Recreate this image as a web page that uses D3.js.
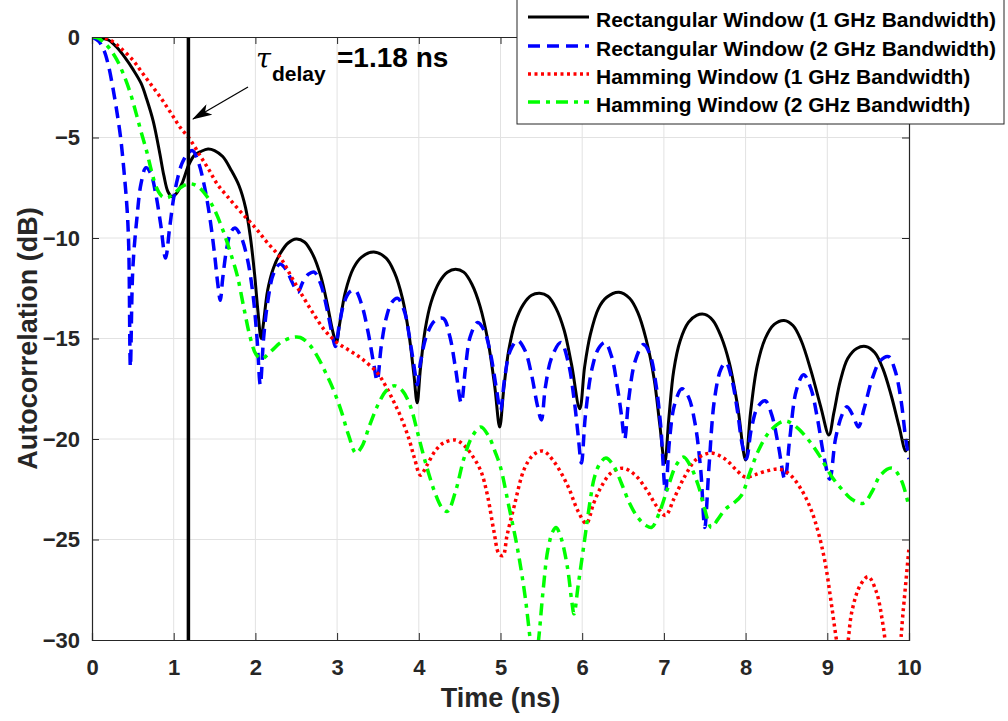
<!DOCTYPE html>
<html>
<head>
<meta charset="utf-8">
<script src="https://cdn.jsdelivr.net/npm/d3@7"></script>
<style>
  body { margin: 0; background: #fff; }
  svg { display: block; font-family: "Liberation Sans", Arial, sans-serif; font-weight: bold; }
</style>
</head>
<body>
<script>
// time (ns), autocorrelation (dB)
const rect1GHz = [[0,0],[0.1,-0.05],[0.2,-0.15],[0.3,-0.5],[0.4,-1.0],[0.5,-1.6],[0.6,-2.3],[0.67,-3.1],[0.75,-4.2],[0.83,-5.8],[0.88,-6.9],[0.93,-7.7],[0.98,-7.95],[1.03,-7.8],[1.1,-7.3],[1.18,-6.4],[1.25,-5.9],[1.33,-5.7],[1.42,-5.57],[1.5,-5.65],[1.6,-5.95],[1.7,-6.6],[1.8,-7.4],[1.88,-8.5],[1.94,-10.0],[1.99,-11.8],[2.03,-13.6],[2.07,-15.0],[2.1,-14.2],[2.15,-12.6],[2.22,-11.5],[2.3,-10.8],[2.4,-10.25],[2.5,-10.05],[2.6,-10.2],[2.7,-10.8],[2.8,-11.9],[2.88,-13.3],[2.95,-14.7],[2.99,-15.2],[3.03,-14.3],[3.1,-12.7],[3.2,-11.5],[3.3,-10.95],[3.45,-10.7],[3.6,-11.0],[3.7,-11.7],[3.8,-13.0],[3.88,-14.8],[3.94,-16.8],[3.98,-18.2],[4.02,-16.5],[4.08,-14.5],[4.15,-13.2],[4.25,-12.2],[4.35,-11.7],[4.45,-11.55],[4.55,-11.7],[4.65,-12.3],[4.75,-13.4],[4.85,-15.2],[4.93,-17.4],[4.99,-19.4],[5.04,-17.5],[5.1,-15.6],[5.18,-14.2],[5.28,-13.3],[5.38,-12.85],[5.48,-12.75],[5.58,-12.9],[5.68,-13.5],[5.78,-14.6],[5.87,-16.3],[5.97,-18.5],[6.03,-16.4],[6.1,-14.8],[6.2,-13.5],[6.3,-12.95],[6.45,-12.7],[6.58,-13.0],[6.68,-13.7],[6.78,-15.0],[6.88,-17.0],[6.95,-19.3],[7.01,-21.2],[7.06,-19.0],[7.12,-16.6],[7.2,-15.1],[7.3,-14.2],[7.4,-13.85],[7.5,-13.8],[7.6,-14.1],[7.7,-14.9],[7.8,-16.2],[7.9,-18.3],[8.0,-21.05],[8.06,-18.7],[8.14,-16.4],[8.24,-15.0],[8.35,-14.3],[8.47,-14.1],[8.58,-14.35],[8.68,-15.1],[8.8,-16.6],[8.92,-18.4],[9.02,-19.8],[9.08,-18.7],[9.16,-17.1],[9.25,-16.0],[9.36,-15.5],[9.47,-15.4],[9.58,-15.7],[9.68,-16.5],[9.78,-17.8],[9.88,-19.4],[9.96,-20.6],[10.0,-20.1]];

const rect2GHz = [[0,0],[0.08,-0.2],[0.15,-0.7],[0.2,-1.4],[0.25,-2.4],[0.3,-3.6],[0.35,-5.0],[0.39,-6.6],[0.43,-8.6],[0.45,-10.5],[0.47,-16.4],[0.5,-11.5],[0.55,-9.0],[0.6,-7.3],[0.66,-6.5],[0.72,-6.8],[0.78,-7.8],[0.84,-9.3],[0.9,-11.0],[0.95,-9.5],[1.0,-8.0],[1.05,-7.0],[1.1,-6.3],[1.17,-5.8],[1.23,-5.65],[1.3,-6.2],[1.38,-7.5],[1.45,-9.2],[1.5,-10.8],[1.54,-12.3],[1.57,-13.1],[1.6,-12.0],[1.65,-10.5],[1.7,-9.7],[1.75,-9.5],[1.82,-9.9],[1.9,-11.0],[1.97,-12.8],[2.02,-15.0],[2.06,-17.3],[2.1,-15.0],[2.15,-13.2],[2.22,-11.8],[2.3,-11.3],[2.38,-11.6],[2.45,-12.2],[2.52,-12.7],[2.58,-12.2],[2.65,-11.8],[2.72,-11.7],[2.8,-12.3],[2.88,-13.6],[2.95,-15.0],[2.98,-15.4],[3.02,-14.5],[3.08,-13.3],[3.15,-12.7],[3.22,-12.6],[3.3,-13.3],[3.38,-14.7],[3.45,-16.3],[3.49,-17.1],[3.54,-15.4],[3.6,-14.0],[3.67,-13.2],[3.74,-13.0],[3.82,-13.6],[3.9,-15.3],[3.95,-16.6],[3.98,-17.3],[4.02,-16.2],[4.1,-14.8],[4.2,-14.1],[4.3,-14.0],[4.38,-14.9],[4.45,-16.5],[4.52,-18.2],[4.57,-16.5],[4.63,-14.9],[4.72,-14.2],[4.8,-14.6],[4.88,-15.8],[4.95,-17.5],[5.0,-18.6],[5.05,-17.0],[5.12,-15.6],[5.21,-15.1],[5.3,-15.6],[5.38,-16.8],[5.45,-18.3],[5.5,-19.05],[5.55,-17.4],[5.63,-15.9],[5.74,-15.2],[5.83,-16.2],[5.9,-18.0],[5.95,-19.8],[5.99,-21.2],[6.04,-18.8],[6.12,-16.5],[6.2,-15.5],[6.28,-15.2],[6.36,-15.9],[6.43,-17.4],[6.48,-18.8],[6.52,-20.0],[6.57,-18.0],[6.65,-16.1],[6.75,-15.3],[6.83,-15.8],[6.9,-17.2],[6.96,-19.3],[7.02,-22.6],[7.07,-20.0],[7.13,-18.3],[7.22,-17.5],[7.3,-17.9],[7.38,-19.2],[7.45,-21.5],[7.5,-24.4],[7.55,-21.5],[7.62,-18.0],[7.7,-16.5],[7.76,-16.2],[7.83,-17.0],[7.9,-18.6],[7.96,-20.3],[8.01,-21.0],[8.07,-19.5],[8.15,-18.4],[8.24,-18.1],[8.32,-18.8],[8.4,-20.3],[8.48,-22.0],[8.54,-20.0],[8.62,-17.6],[8.71,-16.8],[8.8,-17.5],[8.88,-19.0],[8.96,-20.9],[9.03,-22.0],[9.1,-20.0],[9.18,-18.8],[9.24,-18.4],[9.31,-18.8],[9.38,-19.4],[9.45,-18.5],[9.55,-17.0],[9.65,-16.1],[9.75,-15.9],[9.83,-16.6],[9.9,-18.0],[9.96,-20.0],[10.0,-21.0]];

const hamm1GHz = [[0,0],[0.1,-0.03],[0.22,-0.15],[0.35,-0.55],[0.5,-1.15],[0.6,-1.7],[0.71,-2.3],[0.82,-2.9],[0.92,-3.5],[1.0,-4.0],[1.08,-4.5],[1.2,-5.1],[1.33,-5.95],[1.43,-6.6],[1.53,-7.3],[1.65,-7.9],[1.82,-8.7],[2.0,-9.5],[2.14,-10.2],[2.31,-11.0],[2.45,-12.0],[2.55,-12.7],[2.7,-13.7],[2.85,-14.6],[3.0,-15.2],[3.15,-15.6],[3.3,-16.0],[3.49,-16.7],[3.6,-17.4],[3.7,-18.2],[3.78,-18.9],[3.88,-20.0],[3.95,-21.0],[4.02,-21.8],[4.1,-21.3],[4.2,-20.6],[4.3,-20.2],[4.45,-20.05],[4.55,-20.3],[4.65,-20.8],[4.76,-21.6],[4.84,-22.8],[4.92,-24.6],[4.98,-25.7],[5.03,-25.8],[5.08,-24.8],[5.17,-23.3],[5.29,-21.5],[5.4,-20.8],[5.52,-20.6],[5.65,-21.1],[5.82,-22.3],[5.95,-23.6],[6.05,-24.2],[6.14,-23.2],[6.23,-22.4],[6.35,-21.7],[6.5,-21.45],[6.65,-21.8],[6.8,-22.6],[6.92,-23.4],[7.02,-23.8],[7.12,-23.0],[7.25,-21.9],[7.4,-21.0],[7.58,-20.7],[7.75,-21.0],[7.9,-21.6],[8.0,-21.9],[8.1,-21.8],[8.25,-21.6],[8.42,-21.5],[8.55,-21.8],[8.68,-22.5],[8.8,-23.5],[8.9,-24.8],[8.98,-26.3],[9.05,-28.2],[9.12,-30.2],[9.18,-31.5],[9.24,-30.5],[9.3,-28.6],[9.4,-27.3],[9.5,-26.85],[9.6,-27.6],[9.68,-29.2],[9.74,-31.0],[9.8,-32.0],[9.87,-31.0],[9.93,-28.5],[10.0,-25.4]];

const hamm2GHz = [[0,0],[0.07,-0.05],[0.14,-0.25],[0.22,-0.6],[0.3,-1.1],[0.38,-1.8],[0.47,-2.8],[0.54,-3.8],[0.6,-4.7],[0.67,-5.7],[0.73,-6.7],[0.79,-7.5],[0.85,-7.9],[0.92,-8.0],[1.0,-7.8],[1.1,-7.45],[1.2,-7.3],[1.3,-7.45],[1.41,-7.95],[1.5,-8.6],[1.61,-9.7],[1.7,-10.8],[1.78,-11.9],[1.86,-13.5],[1.94,-15.0],[2.01,-15.8],[2.08,-16.0],[2.2,-15.6],[2.31,-15.2],[2.45,-14.95],[2.55,-14.95],[2.66,-15.3],[2.76,-15.9],[2.86,-16.7],[2.96,-17.6],[3.05,-18.6],[3.14,-19.8],[3.23,-20.7],[3.3,-20.4],[3.4,-19.3],[3.5,-18.3],[3.6,-17.6],[3.7,-17.35],[3.8,-17.6],[3.9,-18.4],[3.98,-19.6],[4.05,-20.7],[4.12,-21.7],[4.2,-22.7],[4.28,-23.4],[4.35,-23.6],[4.45,-22.6],[4.55,-21.0],[4.65,-19.9],[4.76,-19.4],[4.86,-19.9],[4.94,-20.7],[5.0,-21.4],[5.1,-23.3],[5.21,-25.5],[5.3,-27.8],[5.37,-30.2],[5.41,-31.5],[5.46,-30.2],[5.52,-27.6],[5.58,-25.5],[5.64,-24.6],[5.68,-24.4],[5.74,-24.9],[5.82,-26.4],[5.87,-28.0],[5.9,-28.7],[5.95,-27.3],[6.03,-25.0],[6.1,-23.0],[6.15,-21.9],[6.22,-21.2],[6.29,-20.95],[6.38,-21.3],[6.48,-22.2],[6.58,-23.2],[6.68,-23.9],[6.78,-24.3],[6.85,-24.4],[6.95,-23.6],[7.05,-22.4],[7.15,-21.3],[7.24,-20.9],[7.32,-21.3],[7.42,-22.3],[7.5,-23.5],[7.58,-24.4],[7.66,-24.0],[7.75,-23.5],[7.85,-23.2],[7.95,-22.8],[8.05,-21.7],[8.16,-20.55],[8.3,-19.6],[8.48,-19.1],[8.62,-19.4],[8.77,-20.05],[8.9,-20.8],[9.06,-21.9],[9.2,-22.6],[9.3,-23.0],[9.44,-23.2],[9.55,-22.6],[9.65,-21.8],[9.79,-21.45],[9.9,-22.0],[10.0,-23.4]];

const seriesNames = ['Rectangular Window (1 GHz Bandwidth)', 'Rectangular Window (2 GHz Bandwidth)',
                     'Hamming Window (1 GHz Bandwidth)', 'Hamming Window (2 GHz Bandwidth)'];
const xTicks = [0, 1, 2, 3, 4, 5, 6, 7, 8, 9, 10];
const yTicks = [0, -5, -10, -15, -20, -25, -30];
const delay = 1.18;

const width = 1008;
const height = 721;
const margin = { left: 92, right: 99, top: 37, bottom: 81 };
const axisColor = '#262626';

const svg = d3.select('body').append('svg')
  .attr('width', width)
  .attr('height', height);

const x = d3.scaleLinear().domain([0, 10]).range([margin.left, width - margin.right]);
const y = d3.scaleLinear().domain([-30, 0]).range([height - margin.bottom, margin.top]);

// grid
svg.append('g')
  .selectAll('line.gx')
  .data(xTicks.slice(1, -1))
  .enter().append('line')
  .attr('x1', (d) => x(d)).attr('x2', (d) => x(d))
  .attr('y1', y(0)).attr('y2', y(-30))
  .attr('stroke', '#e2e2e2').attr('stroke-width', 1);

svg.append('g')
  .selectAll('line.gy')
  .data(yTicks.slice(1, -1))
  .enter().append('line')
  .attr('x1', x(0)).attr('x2', x(10))
  .attr('y1', (d) => y(d)).attr('y2', (d) => y(d))
  .attr('stroke', '#e2e2e2').attr('stroke-width', 1);

svg.append('clipPath').attr('id', 'plot-clip')
  .append('rect')
  .attr('x', x(0)).attr('y', y(0))
  .attr('width', x(10) - x(0)).attr('height', y(-30) - y(0));

const line = d3.line()
  .x((d) => x(d[0]))
  .y((d) => y(d[1]))
  .curve(d3.curveCatmullRom.alpha(0.5));

const styles = [
  { color: '#000000', width: 3, dash: null },
  { color: '#0000ff', width: 3.5, dash: '12,7' },
  { color: '#ff0000', width: 3.5, dash: '3,3.5' },
  { color: '#00ff00', width: 3.5, dash: '12,6,4,6' }
];

const curves = svg.append('g').attr('clip-path', 'url(#plot-clip)');
[rect1GHz, rect2GHz, hamm1GHz, hamm2GHz].forEach((data, i) => {
  curves.append('path')
    .datum(data)
    .attr('d', line)
    .attr('fill', 'none')
    .attr('stroke', styles[i].color)
    .attr('stroke-width', styles[i].width)
    .attr('stroke-dasharray', styles[i].dash);
});

// delay marker
svg.append('line')
  .attr('x1', x(delay)).attr('x2', x(delay))
  .attr('y1', y(0) + 1).attr('y2', y(-30))
  .attr('stroke', '#000').attr('stroke-width', 3.5);

// axes
const xAxis = d3.axisBottom(x).tickValues(xTicks).tickSize(-7).tickPadding(19).tickFormat(d3.format('d'));
const yAxis = d3.axisLeft(y).tickValues(yTicks).tickSize(-7).tickPadding(12).tickFormat(d3.format('d'));

const gx = svg.append('g')
  .attr('transform', `translate(0, ${y(-30)})`)
  .call(xAxis);
const gy = svg.append('g')
  .attr('transform', `translate(${x(0)}, 0)`)
  .call(yAxis);

const gxTop = svg.append('g')
  .attr('transform', `translate(0, ${y(0)})`)
  .call(d3.axisTop(x).tickValues(xTicks).tickSize(-7).tickFormat(''));
const gyRight = svg.append('g')
  .attr('transform', `translate(${x(10)}, 0)`)
  .call(d3.axisRight(y).tickValues(yTicks).tickSize(-7).tickFormat(''));

[gx, gy, gxTop, gyRight].forEach((g) => {
  g.selectAll('.domain').attr('stroke', axisColor).attr('stroke-width', 1.2);
  g.selectAll('.tick line').attr('stroke', axisColor).attr('stroke-width', 1);
  g.selectAll('.tick text')
    .attr('fill', axisColor)
    .style('font-size', '22px')
    .style('font-weight', 'bold')
    .style('font-family', '"Liberation Sans", Arial, sans-serif');
});

// axis labels
svg.append('text')
  .attr('x', (x(0) + x(10)) / 2)
  .attr('y', 707)
  .attr('text-anchor', 'middle')
  .attr('fill', axisColor)
  .style('font-size', '27px')
  .text('Time (ns)');

svg.append('text')
  .attr('transform', `translate(37, ${(y(0) + y(-30)) / 2}) rotate(-90)`)
  .attr('text-anchor', 'middle')
  .attr('fill', axisColor)
  .style('font-size', '27px')
  .text('Autocorrelation (dB)');

// annotation
const note = svg.append('g');
note.append('text')
  .attr('x', 256).attr('y', 68)
  .style('font-family', '"DejaVu Serif", "Liberation Serif", serif')
  .style('font-style', 'italic')
  .style('font-weight', 'normal')
  .style('font-size', '27px')
  .text('τ');
note.append('text')
  .attr('x', 272).attr('y', 81)
  .style('font-size', '21px')
  .text('delay');
note.append('text')
  .attr('x', 337).attr('y', 67)
  .style('font-size', '28px')
  .text('=1.18 ns');

svg.append('defs').append('marker')
  .attr('id', 'arrow-head')
  .attr('viewBox', '0 0 20 12')
  .attr('refX', 19).attr('refY', 6)
  .attr('markerWidth', 20).attr('markerHeight', 12)
  .attr('markerUnits', 'userSpaceOnUse')
  .attr('orient', 'auto')
  .append('path')
  .attr('d', 'M0,0 L20,6 L0,12 L5,6 Z')
  .attr('fill', '#000');

note.append('line')
  .attr('x1', 248).attr('y1', 87)
  .attr('x2', 193).attr('y2', 119)
  .attr('stroke', '#000').attr('stroke-width', 1.2)
  .attr('marker-end', 'url(#arrow-head)');

// legend
const legend = svg.append('g');
legend.append('rect')
  .attr('x', 517).attr('y', -1)
  .attr('width', 487).attr('height', 125)
  .attr('fill', '#fff')
  .attr('stroke', axisColor).attr('stroke-width', 1);

const rowY = [27, 56, 84, 112];
seriesNames.forEach((name, i) => {
  legend.append('line')
    .attr('x1', 528).attr('x2', 589)
    .attr('y1', rowY[i] - 10).attr('y2', rowY[i] - 10)
    .attr('stroke', styles[i].color)
    .attr('stroke-width', styles[i].width)
    .attr('stroke-dasharray', styles[i].dash);
  legend.append('text')
    .attr('x', 596).attr('y', rowY[i])
    .attr('fill', '#000')
    .style('font-size', '21px')
    .text(name);
});
</script>
</body>
</html>
